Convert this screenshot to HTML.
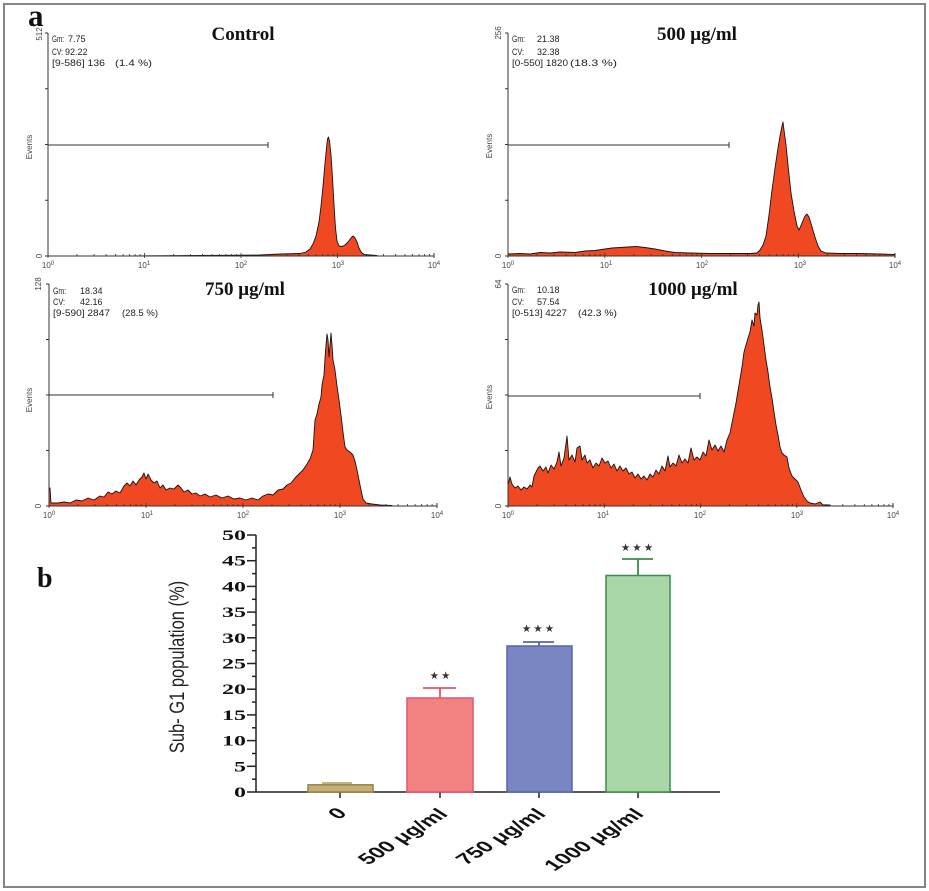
<!DOCTYPE html>
<html><head><meta charset="utf-8"><style>
html,body{margin:0;padding:0;background:#fff;}
svg{display:block;}
.sans{font-family:"Liberation Sans",Arial,sans-serif;}
.serif{font-family:"Liberation Serif","Times New Roman",serif;}
.info{font-family:"Liberation Sans",Arial,sans-serif;font-size:9px;fill:#222;}
.tk{font-family:"Liberation Sans",Arial,sans-serif;font-size:8px;fill:#444;}
.hist{fill:#f04820;stroke:#151515;stroke-width:0.9;stroke-linejoin:round;}
.ax{stroke:#333;stroke-width:1;fill:none;}
</style></head><body>
<svg width="929" height="891" viewBox="0 0 929 891" xmlns="http://www.w3.org/2000/svg" xmlns:xlink="http://www.w3.org/1999/xlink">
<defs>
<g id="dec" stroke="#333" stroke-width="0.8">
<line x1="0" y1="-3" x2="0" y2="2"/>
<line x1="29" y1="-2" x2="29" y2="0"/>
<line x1="46" y1="-2" x2="46" y2="0"/>
<line x1="58.1" y1="-2" x2="58.1" y2="0"/>
<line x1="67.5" y1="-2" x2="67.5" y2="0"/>
<line x1="75.1" y1="-2" x2="75.1" y2="0"/>
<line x1="81.5" y1="-2" x2="81.5" y2="0"/>
<line x1="87.1" y1="-2" x2="87.1" y2="0"/>
<line x1="92.1" y1="-2" x2="92.1" y2="0"/>
</g>
</defs>
<rect x="0" y="0" width="929" height="891" fill="#fff"/>
<!-- outer frame -->
<rect x="4" y="4" width="921" height="883" fill="none" stroke="#858585" stroke-width="2"/>

<text x="28" y="26" class="serif" font-weight="bold" font-size="31" fill="#111">a</text>

<!-- ===== Panel 1: Control ===== -->
<path class="hist" d="M48,256 L120,256 L200,255.5 L260,255 L280,254 L300,253.5 L306,252 L310,249 L313,244 L316,236 L319,222 L321,206 L323,186 L325,163 L326.5,148 L327.5,139 L328.5,137 L329.5,141 L331,155 L332.5,178 L334,205 L335.5,228 L337,241 L339,246 L342,246.5 L345,245 L348,242 L351,238 L353,236 L355,238 L357,242 L359,248 L361,252 L364,254.5 L370,255 L377,255.5 L378,256 Z"/>
<g class="ax">
<line x1="48" y1="33" x2="48" y2="256"/>
<line x1="48" y1="256" x2="434" y2="256"/>
<line x1="45" y1="33" x2="48" y2="33"/><line x1="45" y1="88.75" x2="48" y2="88.75"/><line x1="45" y1="144.5" x2="48" y2="144.5"/><line x1="45" y1="200.25" x2="48" y2="200.25"/><line x1="45" y1="256" x2="48" y2="256"/>
<line x1="48" y1="145" x2="268" y2="145"/><line x1="268" y1="142" x2="268" y2="148"/>
<line x1="434" y1="253" x2="434" y2="258"/>
</g>
<use xlink:href="#dec" href="#dec" x="48" y="256"/><use xlink:href="#dec" href="#dec" x="144.5" y="256"/><use xlink:href="#dec" href="#dec" x="241" y="256"/><use xlink:href="#dec" href="#dec" x="337.5" y="256"/>
<text class="tk" x="48" y="268" text-anchor="middle">10<tspan dy="-3" font-size="6">0</tspan></text>
<text class="tk" x="144" y="268" text-anchor="middle">10<tspan dy="-3" font-size="6">1</tspan></text>
<text class="tk" x="241" y="268" text-anchor="middle">10<tspan dy="-3" font-size="6">2</tspan></text>
<text class="tk" x="338" y="268" text-anchor="middle">10<tspan dy="-3" font-size="6">3</tspan></text>
<text class="tk" x="434" y="268" text-anchor="middle">10<tspan dy="-3" font-size="6">4</tspan></text>
<text class="tk" transform="translate(42,34) rotate(-90)" text-anchor="middle">512</text>
<text class="tk" transform="translate(42,256) rotate(-90)" text-anchor="middle">0</text>
<text class="tk" transform="translate(32,147) rotate(-90)" text-anchor="middle">Events</text>
<text class="info" x="52" y="42" textLength="12" lengthAdjust="spacingAndGlyphs">Gm:</text><text class="info" x="68" y="42">7.75</text>
<text class="info" x="52" y="55" textLength="11" lengthAdjust="spacingAndGlyphs">CV:</text><text class="info" x="65" y="55">92.22</text>
<text class="info" x="52" y="66" textLength="53" lengthAdjust="spacingAndGlyphs">[9-586] 136</text><text class="info" x="115" y="66" textLength="37" lengthAdjust="spacingAndGlyphs">(1.4  %)</text>
<text x="243" y="40" class="serif" font-weight="bold" font-size="19" fill="#111" text-anchor="middle">Control</text>

<!-- ===== Panel 2: 500 ===== -->
<path class="hist" d="M508,256 L508,254 L520,253.5 L530,254 L540,252.5 L550,253 L560,252 L575,252.5 L585,251 L595,250.5 L605,249 L612,248 L620,247.5 L628,247 L636,246.5 L645,247.5 L655,249 L665,251 L675,252.5 L690,253 L710,253.5 L730,253.5 L750,253.5 L757,253 L760,250 L763,245 L766,236 L769,215 L772,190 L775,168 L778,148 L780,136 L782,126 L783,122 L784,130 L786,145 L788,165 L791,193 L794,211 L797,226 L799,230 L802,223 L805,216 L807,214 L809,217 L812,227 L815,237 L818,246 L821,251 L826,253 L840,253.5 L860,253.5 L880,254 L895,254.5 L895,256 Z"/>
<g class="ax">
<line x1="508" y1="33" x2="508" y2="256"/>
<line x1="508" y1="256" x2="895" y2="256"/>
<line x1="505" y1="33" x2="508" y2="33"/><line x1="505" y1="88.75" x2="508" y2="88.75"/><line x1="505" y1="144.5" x2="508" y2="144.5"/><line x1="505" y1="200.25" x2="508" y2="200.25"/><line x1="505" y1="256" x2="508" y2="256"/>
<line x1="508" y1="145" x2="729" y2="145"/><line x1="729" y1="142" x2="729" y2="148"/>
<line x1="895" y1="253" x2="895" y2="258"/>
</g>
<use xlink:href="#dec" href="#dec" x="508" y="256"/><use xlink:href="#dec" href="#dec" x="604.8" y="256"/><use xlink:href="#dec" href="#dec" x="701.5" y="256"/><use xlink:href="#dec" href="#dec" x="798.3" y="256"/>
<text class="tk" x="508" y="268" text-anchor="middle">10<tspan dy="-3" font-size="6">0</tspan></text>
<text class="tk" x="606" y="268" text-anchor="middle">10<tspan dy="-3" font-size="6">1</tspan></text>
<text class="tk" x="702" y="268" text-anchor="middle">10<tspan dy="-3" font-size="6">2</tspan></text>
<text class="tk" x="800" y="268" text-anchor="middle">10<tspan dy="-3" font-size="6">3</tspan></text>
<text class="tk" x="895" y="268" text-anchor="middle">10<tspan dy="-3" font-size="6">4</tspan></text>
<text class="tk" transform="translate(501,33) rotate(-90)" text-anchor="middle">256</text>
<text class="tk" transform="translate(501,256) rotate(-90)" text-anchor="middle">0</text>
<text class="tk" transform="translate(492,146) rotate(-90)" text-anchor="middle">Events</text>
<text class="info" x="512" y="42" textLength="13" lengthAdjust="spacingAndGlyphs">Gm:</text><text class="info" x="537" y="42">21.38</text>
<text class="info" x="512" y="55" textLength="12" lengthAdjust="spacingAndGlyphs">CV:</text><text class="info" x="537" y="55">32.38</text>
<text class="info" x="512" y="66" textLength="56" lengthAdjust="spacingAndGlyphs">[0-550] 1820</text><text class="info" x="570" y="66" textLength="47" lengthAdjust="spacingAndGlyphs">(18.3 %)</text>
<text x="697" y="40" class="serif" font-weight="bold" font-size="19" fill="#111" text-anchor="middle">500 μg/ml</text>

<!-- ===== Panel 3: 750 ===== -->
<path class="hist" d="M49,506 L49,488 L50,488 L51,503 L58,503 L64,502 L70,503 L76,500 L82,501 L88,498 L94,500 L100,496 L104,497 L108,492 L112,494 L116,491 L120,493 L124,486 L127,483 L130,486 L133,481 L136,485 L139,480 L142,477 L144,473 L146,479 L148,474 L151,480 L154,483 L157,481 L160,488 L163,485 L166,490 L170,488 L174,489 L178,485 L181,488 L184,492 L188,490 L192,494 L196,493 L200,496 L205,494 L210,497 L216,495 L222,498 L228,496 L234,499 L240,498 L246,500 L252,498 L258,500 L263,496 L268,494 L273,495 L278,490 L283,489 L287,485 L291,483 L295,478 L299,474 L303,470 L307,464 L310,459 L313,450 L315,420 L317,414 L319,404 L321,397 L322,385 L324,375 L325,358 L326,345 L327,334 L328,340 L329,357 L330,345 L331,333 L332,345 L333,360 L335,370 L337,386 L339,400 L341,415 L343,432 L345,447 L347,450 L350,452 L353,455 L355,461 L357,470 L359,480 L361,490 L363,499 L366,503 L372,504 L380,505 L392,505.5 L392,506 Z"/>
<g class="ax">
<line x1="49" y1="284" x2="49" y2="506"/>
<line x1="49" y1="506" x2="437" y2="506"/>
<line x1="46" y1="284" x2="49" y2="284"/><line x1="46" y1="339.5" x2="49" y2="339.5"/><line x1="46" y1="395" x2="49" y2="395"/><line x1="46" y1="450.5" x2="49" y2="450.5"/><line x1="46" y1="506" x2="49" y2="506"/>
<line x1="49" y1="395" x2="273" y2="395"/><line x1="273" y1="392" x2="273" y2="398"/>
<line x1="437" y1="503" x2="437" y2="508"/>
</g>
<use xlink:href="#dec" href="#dec" x="49" y="506"/><use xlink:href="#dec" href="#dec" x="146" y="506"/><use xlink:href="#dec" href="#dec" x="243" y="506"/><use xlink:href="#dec" href="#dec" x="340" y="506"/>
<text class="tk" x="49" y="518" text-anchor="middle">10<tspan dy="-3" font-size="6">0</tspan></text>
<text class="tk" x="147" y="518" text-anchor="middle">10<tspan dy="-3" font-size="6">1</tspan></text>
<text class="tk" x="243" y="518" text-anchor="middle">10<tspan dy="-3" font-size="6">2</tspan></text>
<text class="tk" x="340" y="518" text-anchor="middle">10<tspan dy="-3" font-size="6">3</tspan></text>
<text class="tk" x="437" y="518" text-anchor="middle">10<tspan dy="-3" font-size="6">4</tspan></text>
<text class="tk" transform="translate(41,284) rotate(-90)" text-anchor="middle">128</text>
<text class="tk" transform="translate(41,506) rotate(-90)" text-anchor="middle">0</text>
<text class="tk" transform="translate(32,400) rotate(-90)" text-anchor="middle">Events</text>
<text class="info" x="53" y="294" textLength="13" lengthAdjust="spacingAndGlyphs">Gm:</text><text class="info" x="80" y="294">18.34</text>
<text class="info" x="53" y="305" textLength="12" lengthAdjust="spacingAndGlyphs">CV:</text><text class="info" x="80" y="305">42.16</text>
<text class="info" x="53" y="316" textLength="57" lengthAdjust="spacingAndGlyphs">[9-590] 2847</text><text class="info" x="122" y="316" textLength="36" lengthAdjust="spacingAndGlyphs">(28.5 %)</text>
<text x="245" y="295" class="serif" font-weight="bold" font-size="19" fill="#111" text-anchor="middle">750 μg/ml</text>

<!-- ===== Panel 4: 1000 ===== -->
<path class="hist" d="M508,506 L508,485 L510,477 L512,484 L515,488 L518,486 L521,490 L524,487 L527,489 L530,485 L532,487 L534,476 L536,472 L538,468 L540,466 L543,471 L546,467 L548,473 L551,465 L554,469 L557,462 L559,452 L561,466 L564,458 L567,436 L569,460 L572,455 L575,462 L577,448 L580,446 L582,460 L585,455 L587,463 L590,460 L593,468 L596,463 L599,466 L602,458 L605,463 L608,461 L611,468 L614,464 L617,471 L620,466 L623,471 L626,468 L629,474 L632,472 L635,478 L638,474 L641,479 L644,476 L647,480 L650,474 L653,477 L656,470 L659,474 L662,466 L665,471 L668,456 L670,467 L673,463 L676,466 L679,455 L682,463 L685,459 L688,463 L691,448 L694,460 L697,457 L700,460 L703,452 L706,456 L709,440 L712,450 L715,445 L718,451 L721,446 L724,452 L727,440 L730,433 L733,418 L736,403 L739,385 L742,367 L744,352 L746,345 L748,338 L750,332 L752,320 L754,326 L755,313 L757,315 L758,305 L759,302 L760,318 L762,330 L764,345 L766,360 L768,372 L770,387 L772,398 L774,412 L776,425 L778,435 L780,447 L782,453 L784,455 L787,457 L789,468 L792,476 L795,479 L798,482 L801,490 L804,497 L807,501 L810,503 L815,504 L820,502 L823,505 L830,505 L830,506 Z"/>
<g class="ax">
<line x1="508" y1="284" x2="508" y2="506"/>
<line x1="508" y1="506" x2="893" y2="506"/>
<line x1="505" y1="284" x2="508" y2="284"/><line x1="505" y1="339.5" x2="508" y2="339.5"/><line x1="505" y1="395" x2="508" y2="395"/><line x1="505" y1="450.5" x2="508" y2="450.5"/><line x1="505" y1="506" x2="508" y2="506"/>
<line x1="508" y1="396" x2="700" y2="396"/><line x1="700" y1="393" x2="700" y2="399"/>
<line x1="893" y1="503" x2="893" y2="508"/>
</g>
<use xlink:href="#dec" href="#dec" x="508" y="506"/><use xlink:href="#dec" href="#dec" x="604.3" y="506"/><use xlink:href="#dec" href="#dec" x="700.5" y="506"/><use xlink:href="#dec" href="#dec" x="796.8" y="506"/>
<text class="tk" x="508" y="518" text-anchor="middle">10<tspan dy="-3" font-size="6">0</tspan></text>
<text class="tk" x="603" y="518" text-anchor="middle">10<tspan dy="-3" font-size="6">1</tspan></text>
<text class="tk" x="700" y="518" text-anchor="middle">10<tspan dy="-3" font-size="6">2</tspan></text>
<text class="tk" x="797" y="518" text-anchor="middle">10<tspan dy="-3" font-size="6">3</tspan></text>
<text class="tk" x="893" y="518" text-anchor="middle">10<tspan dy="-3" font-size="6">4</tspan></text>
<text class="tk" transform="translate(501,284) rotate(-90)" text-anchor="middle">64</text>
<text class="tk" transform="translate(501,506) rotate(-90)" text-anchor="middle">0</text>
<text class="tk" transform="translate(492,397) rotate(-90)" text-anchor="middle">Events</text>
<text class="info" x="512" y="293" textLength="13" lengthAdjust="spacingAndGlyphs">Gm:</text><text class="info" x="537" y="293">10.18</text>
<text class="info" x="512" y="305" textLength="12" lengthAdjust="spacingAndGlyphs">CV:</text><text class="info" x="537" y="305">57.54</text>
<text class="info" x="512" y="316" textLength="55" lengthAdjust="spacingAndGlyphs">[0-513] 4227</text><text class="info" x="578" y="316" textLength="39" lengthAdjust="spacingAndGlyphs">(42.3 %)</text>
<text x="693" y="295" class="serif" font-weight="bold" font-size="19" fill="#111" text-anchor="middle">1000 μg/ml</text>

<!-- ===== Panel b: bar chart ===== -->
<text x="37" y="587" class="serif" font-weight="bold" font-size="28" fill="#111">b</text>
<text class="sans" font-size="16.5" fill="#222" text-anchor="middle" transform="translate(184,667) scale(1.3,1) rotate(-90)">Sub- G1 population (%)</text>

<g stroke="#222" stroke-width="1.5" fill="none">
<line x1="256" y1="535" x2="256" y2="792.5"/>
<line x1="256" y1="792" x2="720" y2="792"/>
<line x1="247" y1="792" x2="256" y2="792"/><line x1="247" y1="766.3" x2="256" y2="766.3"/><line x1="247" y1="740.6" x2="256" y2="740.6"/><line x1="247" y1="714.9" x2="256" y2="714.9"/><line x1="247" y1="689.2" x2="256" y2="689.2"/><line x1="247" y1="663.5" x2="256" y2="663.5"/><line x1="247" y1="637.8" x2="256" y2="637.8"/><line x1="247" y1="612.1" x2="256" y2="612.1"/><line x1="247" y1="586.4" x2="256" y2="586.4"/><line x1="247" y1="560.7" x2="256" y2="560.7"/><line x1="247" y1="535" x2="256" y2="535"/>
<line x1="252" y1="779.2" x2="256" y2="779.2"/><line x1="252" y1="753.5" x2="256" y2="753.5"/><line x1="252" y1="727.8" x2="256" y2="727.8"/><line x1="252" y1="702.1" x2="256" y2="702.1"/><line x1="252" y1="676.4" x2="256" y2="676.4"/><line x1="252" y1="650.7" x2="256" y2="650.7"/><line x1="252" y1="625" x2="256" y2="625"/><line x1="252" y1="599.3" x2="256" y2="599.3"/><line x1="252" y1="573.6" x2="256" y2="573.6"/><line x1="252" y1="547.9" x2="256" y2="547.9"/>
<line x1="340" y1="792" x2="340" y2="798"/><line x1="440" y1="792" x2="440" y2="798"/><line x1="539" y1="792" x2="539" y2="798"/><line x1="638" y1="792" x2="638" y2="798"/>
</g>
<g class="serif" font-weight="bold" font-size="15" fill="#111" text-anchor="end">
<text transform="translate(246,797) scale(1.6,1)">0</text>
<text transform="translate(246,771.3) scale(1.6,1)">5</text>
<text transform="translate(246,745.6) scale(1.6,1)">10</text>
<text transform="translate(246,719.9) scale(1.6,1)">15</text>
<text transform="translate(246,694.2) scale(1.6,1)">20</text>
<text transform="translate(246,668.5) scale(1.6,1)">25</text>
<text transform="translate(246,642.8) scale(1.6,1)">30</text>
<text transform="translate(246,617.1) scale(1.6,1)">35</text>
<text transform="translate(246,591.4) scale(1.6,1)">40</text>
<text transform="translate(246,565.7) scale(1.6,1)">45</text>
<text transform="translate(246,540) scale(1.6,1)">50</text>
</g>

<!-- bars -->
<rect x="308" y="784.8" width="65" height="7.2" fill="#c5ae78" stroke="#9a8448" stroke-width="1.5"/>
<line x1="322" y1="783" x2="352" y2="783" stroke="#9a8448" stroke-width="1.2"/>
<rect x="407" y="698" width="66" height="94" fill="#f38282" stroke="#e4566a" stroke-width="1.5"/>
<g stroke="#e4566a" stroke-width="1.8"><line x1="440" y1="698" x2="440" y2="688"/><line x1="423" y1="688" x2="456" y2="688"/></g>
<rect x="507" y="646" width="65" height="146" fill="#7986c2" stroke="#5565aa" stroke-width="1.5"/>
<g stroke="#5565aa" stroke-width="1.8"><line x1="539" y1="646" x2="539" y2="642"/><line x1="523" y1="642" x2="554" y2="642"/></g>
<rect x="606" y="575.5" width="64" height="216.5" fill="#a9d7a8" stroke="#3f8a4c" stroke-width="1.5"/>
<g stroke="#3f8a4c" stroke-width="1.8"><line x1="638" y1="575.5" x2="638" y2="559"/><line x1="622" y1="559" x2="653" y2="559"/></g>

<g font-family="DejaVu Sans, sans-serif" font-size="10.5" fill="#333" text-anchor="middle" letter-spacing="2">
<text x="441" y="679">★★</text>
<text x="539" y="632">★★★</text>
<text x="638" y="551">★★★</text>
</g>

<g class="sans" font-weight="bold" font-size="15.5" fill="#111" text-anchor="end">
<text transform="translate(348,814) scale(1.6,1) rotate(-45)">0</text>
<text transform="translate(449,815) scale(1.6,1) rotate(-45)">500 μg/ml</text>
<text transform="translate(547,815) scale(1.6,1) rotate(-45)">750 μg/ml</text>
<text transform="translate(645,815) scale(1.6,1) rotate(-45)">1000 μg/ml</text>
</g>
</svg>
</body></html>
